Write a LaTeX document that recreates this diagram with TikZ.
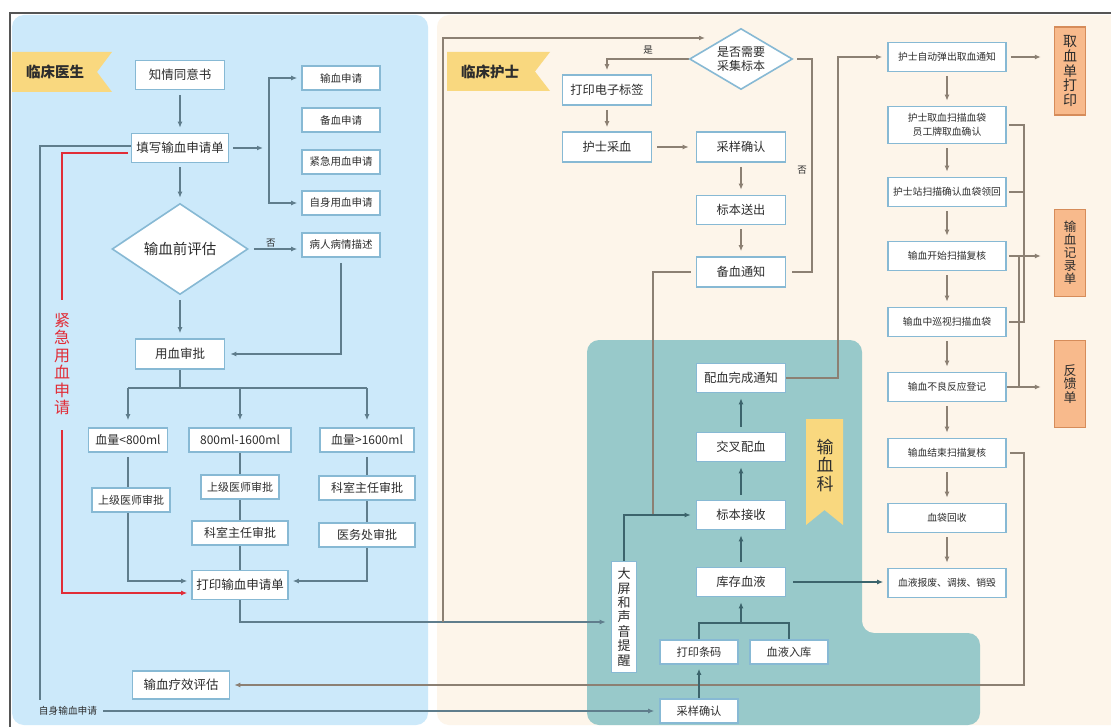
\documentclass[tikz,border=0pt]{standalone}
\usepackage{fontspec}
\setmainfont{Noto Sans CJK SC}
\usetikzlibrary{shapes.geometric,arrows.meta,calc}
\pgfdeclarelayer{panel}
\pgfdeclarelayer{lines}
\pgfsetlayers{panel,lines,main}
\definecolor{bluepanel}{RGB}{204,233,250}
\definecolor{peach}{RGB}{253,245,234}
\definecolor{tealpanel}{RGB}{152,201,202}
\definecolor{ribbon}{RGB}{249,216,127}
\definecolor{orangebox}{RGB}{248,186,140}
\definecolor{orangeline}{RGB}{214,140,90}
\definecolor{nodeline}{RGB}{135,185,212}
\definecolor{txt}{RGB}{45,45,45}
\definecolor{lineL}{RGB}{95,125,140}
\definecolor{lineR}{RGB}{140,128,115}
\definecolor{lineT}{RGB}{60,100,108}
\definecolor{redline}{RGB}{225,45,55}
\definecolor{framec}{RGB}{85,85,85}
\newcommand{\fsz}[2]{\fontsize{#1}{#2}\selectfont}
\begin{document}
\begin{tikzpicture}[x=1pt,y=-1pt,
  bx/.style={draw=nodeline, line width=1.6pt, fill=white, text=txt, inner sep=0pt, align=center},
  dia/.style={bx, shape=diamond},
  obox/.style={draw=orangeline, line width=1.4pt, fill=orangebox, text=txt, inner sep=0pt, align=center},
  lbl/.style={text=txt, inner sep=0pt, align=center},
  ln/.style={line width=1.3pt},
  cl/.style={ln, draw=lineL},
  cr/.style={ln, draw=lineR},
  ct/.style={ln, draw=lineT},
  cred/.style={ln, draw=redline},
  arr/.style={-{Latex[length=6pt,width=5pt]}},
  darr/.style={{Latex[length=6pt,width=5pt]}-{Latex[length=6pt,width=5pt]}}
]
\useasboundingbox (0,0) rectangle (1111,727);
\begin{pgfonlayer}{panel}
\fill[white] (0,0) rectangle (1111,727);
\fill[bluepanel, rounded corners=12pt] (12,15) -- (428,15) -- (428,725) -- (12,725) -- cycle;
\fill[peach, rounded corners=12pt] (437,15) -- (1130,15) -- (1130,725) -- (437,725) -- cycle;
\fill[tealpanel, rounded corners=12pt] (587,340) -- (862,340) -- (862,633) -- (980,633) -- (980,725) -- (587,725) -- cycle;
\draw[framec, line width=2pt] (1115,13) -- (10,13) -- (10,730);
\fill[ribbon] (12,52) -- (112,52) -- (97,72) -- (112,92) -- (12,92) -- cycle;
\fill[ribbon] (447,52) -- (550,52) -- (535,71.5) -- (550,91) -- (447,91) -- cycle;
\fill[ribbon] (806,419) -- (843,419) -- (843,525) -- (824.5,510) -- (806,525) -- cycle;
\end{pgfonlayer}

% banners
\node[lbl, font=\fsz{14.5}{16}\bfseries] (hd1) at (55,72) {临床医生};
\node[lbl, font=\fsz{14.5}{16}\bfseries] (hd2) at (490,72) {临床护士};
\node[lbl, font=\fsz{17}{18.5}] (hd3) at (825,465) {输\\血\\科};

% left panel
\node[bx, minimum width=89pt, minimum height=29pt, font=\fsz{12.5}{14}] (zq) at (180,75) {知情同意书};
\node[bx, minimum width=97pt, minimum height=29pt, font=\fsz{12.5}{14}] (tx) at (180,148) {填写输血申请单};
\node[bx, minimum width=78pt, minimum height=24pt, font=\fsz{10.5}{12}] (r1) at (341,78) {输血申请};
\node[bx, minimum width=78pt, minimum height=24pt, font=\fsz{10.5}{12}] (r2) at (341,120) {备血申请};
\node[bx, minimum width=78pt, minimum height=24pt, font=\fsz{10.5}{12}] (r3) at (341,162) {紧急用血申请};
\node[bx, minimum width=78pt, minimum height=24pt, font=\fsz{10.5}{12}] (r4) at (341,203) {自身用血申请};
\node[bx, minimum width=78pt, minimum height=24pt, font=\fsz{10.5}{12}] (r5) at (341,245) {病人病情描述};
\node[dia, aspect=1.5, minimum width=136pt, minimum height=91pt, font=\fsz{14.5}{16}] (pg) at (180,249) {输血前评估};
\node[bx, minimum width=89pt, minimum height=30pt, font=\fsz{12.5}{14}] (sp) at (180,354) {用血审批};
\node[bx, minimum width=79pt, minimum height=24pt, font=\fsz{12}{14}] (a1) at (128,440) {血量<800ml};
\node[bx, minimum width=102pt, minimum height=24pt, font=\fsz{12}{14}] (a2) at (240,440) {800ml-1600ml};
\node[bx, minimum width=94pt, minimum height=24pt, font=\fsz{12}{14}] (a3) at (367,440) {血量>1600ml};
\node[bx, minimum width=78pt, minimum height=24pt, font=\fsz{11}{13}] (b1) at (131,500) {上级医师审批};
\node[bx, minimum width=78pt, minimum height=24pt, font=\fsz{11}{13}] (b2) at (240,487) {上级医师审批};
\node[bx, minimum width=96pt, minimum height=24pt, font=\fsz{12}{14}] (b3) at (240,533) {科室主任审批};
\node[bx, minimum width=96pt, minimum height=24pt, font=\fsz{12}{14}] (b4) at (367,488) {科室主任审批};
\node[bx, minimum width=96pt, minimum height=24pt, font=\fsz{12}{14}] (b5) at (367,535) {医务处审批};
\node[bx, minimum width=96pt, minimum height=29pt, font=\fsz{12.5}{14}] (dy) at (240,585) {打印输血申请单};
\node[bx, minimum width=97pt, minimum height=28pt, font=\fsz{12.5}{14}] (lx) at (181,685) {输血疗效评估};
\node[lbl, text=redline, font=\fsz{16}{17.5}] (jj) at (62,364) {紧\\急\\用\\血\\申\\请};
\node[lbl, font=\fsz{9.7}{11}] (zs) at (68,711) {自身输血申请};

% nurse panel
\node[dia, aspect=1.7, minimum width=103pt, minimum height=61pt, font=\fsz{12}{14}] (q1) at (741,59) {是否需要\\采集标本};
\node[bx, minimum width=89pt, minimum height=30pt, font=\fsz{12.2}{14}] (p1) at (607,90) {打印电子标签};
\node[bx, minimum width=89pt, minimum height=30pt, font=\fsz{12.2}{14}] (p2) at (607,147) {护士采血};
\node[bx, minimum width=89pt, minimum height=30pt, font=\fsz{12.2}{14}] (p3) at (741,147) {采样确认};
\node[bx, minimum width=89pt, minimum height=29pt, font=\fsz{12.2}{14}] (p4) at (741,210) {标本送出};
\node[bx, minimum width=89pt, minimum height=30pt, font=\fsz{12.2}{14}] (p5) at (741,272) {备血通知};
\node[lbl, font=\fsz{9.5}{11}] (ys) at (648,50) {是};
\node[lbl, font=\fsz{9.5}{11}] (no2) at (802,170) {否};

% blood bank
\node[bx, minimum width=89pt, minimum height=29pt, font=\fsz{12.3}{14}] (t1) at (741,378) {配血完成通知};
\node[bx, minimum width=89pt, minimum height=29pt, font=\fsz{12.3}{14}] (t2) at (741,447) {交叉配血};
\node[bx, minimum width=89pt, minimum height=29pt, font=\fsz{12.3}{14}] (t3) at (741,515) {标本接收};
\node[bx, minimum width=89pt, minimum height=29pt, font=\fsz{12.3}{14}] (t4) at (741,582) {库存血液};
\node[bx, minimum width=78pt, minimum height=24pt, font=\fsz{11.2}{13}] (t5) at (699,652) {打印条码};
\node[bx, minimum width=78pt, minimum height=24pt, font=\fsz{11.2}{13}] (t6) at (789,652) {血液入库};
\node[bx, minimum width=78pt, minimum height=24pt, font=\fsz{11.2}{13}] (t7) at (699,711) {采样确认};
\node[bx, minimum width=25pt, minimum height=111pt, font=\fsz{13}{14.4}] (dp) at (624,617) {大\\屏\\和\\声\\音\\提\\醒};

% right column
\node[bx, minimum width=118pt, minimum height=29pt, font=\fsz{9.8}{12}] (s1) at (947,57) {护士自动弹出取血通知};
\node[bx, minimum width=118pt, minimum height=37pt, font=\fsz{9.8}{14}] (s2) at (947,125) {护士取血扫描血袋\\员工牌取血确认};
\node[bx, minimum width=118pt, minimum height=29pt, font=\fsz{9.8}{12}] (s3) at (947,192) {护士站扫描确认血袋领回};
\node[bx, minimum width=118pt, minimum height=29pt, font=\fsz{9.8}{12}] (s4) at (947,256) {输血开始扫描复核};
\node[bx, minimum width=118pt, minimum height=29pt, font=\fsz{9.8}{12}] (s5) at (947,322) {输血中巡视扫描血袋};
\node[bx, minimum width=118pt, minimum height=29pt, font=\fsz{9.8}{12}] (s6) at (947,387) {输血不良反应登记};
\node[bx, minimum width=118pt, minimum height=29pt, font=\fsz{9.8}{12}] (s7) at (947,453) {输血结束扫描复核};
\node[bx, minimum width=118pt, minimum height=29pt, font=\fsz{9.8}{12}] (s8) at (947,518) {血袋回收};
\node[bx, minimum width=118pt, minimum height=29pt, font=\fsz{9.8}{12}] (s9) at (947,583) {血液报废、调拨、销毁};
\node[obox, minimum width=31pt, minimum height=88pt, font=\fsz{14}{14.8}] (o1) at (1070,71) {取\\血\\单\\打\\印};
\node[obox, minimum width=31pt, minimum height=87pt, font=\fsz{12.5}{13}] (o2) at (1070,253) {输\\血\\记\\录\\单};
\node[obox, minimum width=31pt, minimum height=87pt, font=\fsz{13}{13.5}] (o3) at (1070,384) {反\\馈\\单};

% coordinates
\coordinate (txr) at (263,148);
\coordinate (br1) at (269,78);
\coordinate (br2) at (269,203);
\coordinate (brY) at (180,388);
\coordinate (rd1) at (62,300);
\coordinate (rd2) at (62,430);
\coordinate (gv) at (40,700);
\coordinate (jn) at (443,622);
\coordinate (qin) at (705,38);
\coordinate (nq) at (812,272);
\coordinate (bk) at (653,515);
\coordinate (pc) at (838,57);
\coordinate (kc) at (741,623);
\coordinate (m1) at (1024,125);
\coordinate (m2) at (1024,322);
\coordinate (m3) at (1019,256);
\coordinate (lxc) at (1024,685);

\begin{pgfonlayer}{lines}
% left panel
\draw[cl,arr,shorten <=5pt,shorten >=5pt] (zq) -- (tx);
\draw[cl,arr,shorten <=4pt] (tx.east) -- (txr);
\draw[cl,darr,shorten <=4pt,shorten >=4pt] (r1.west) -- (br1) -- (br2) -- (r4.west);
\draw[cl,arr,shorten <=4pt,shorten >=5pt] (tx) -- (pg);
\draw[cl,arr,shorten <=5pt,shorten >=4pt] (pg.east) -- (pg.east -| r5.west) node[lbl, pos=0.42, above=1pt, font=\fsz{9.5}{11}] {否};
\draw[cl,arr,shorten <=5pt,shorten >=5pt] (r5.south) |- (sp.east);
\draw[cl,arr,shorten <=5pt,shorten >=5pt] (pg) -- (sp);
\draw[cl] (sp.south) -- (brY);
\draw[cl] (brY -| a1) -- (brY -| a3);
\draw[cl,arr,shorten >=7pt] (brY -| a1) -- (a1.north);
\draw[cl,arr,shorten >=7pt] (brY -| a2) -- (a2.north);
\draw[cl,arr,shorten >=7pt] (brY -| a3) -- (a3.north);
\draw[cl,arr,shorten <=4pt,shorten >=4pt] (a1.south) |- ([yshift=4pt]dy.west);
\draw[cl] (a2.south) -- (dy.north);
\draw[cl,arr,shorten <=4pt,shorten >=4pt] (a3.south) |- ([yshift=4pt]dy.east);
\draw[cred,shorten <=3pt] ([yshift=-5pt]tx.west) -| (rd1);
\draw[cred,arr,shorten >=4pt] (rd2) |- ([yshift=-8pt]dy.west);
\draw[cl] ([yshift=2pt]tx.west) -| (gv);
\draw[cl,arr,shorten <=6pt,shorten >=5pt] (zs.east) -- (zs.east -| t7.west);
\draw[cl,arr,shorten >=5pt] (dy.south) |- ([yshift=-5pt]dp.west);
\draw[cr,arr] (jn) |- (qin);
\draw[cr,arr,shorten <=3pt,shorten >=4pt] (s7.east) -| (lxc) -- (lx.east);
% nurse
\draw[cr,arr,shorten >=4pt] (q1.west) -| (p1.north);
\draw[cr,arr,shorten <=4pt,shorten >=4pt] (p1) -- (p2);
\draw[cr,arr,shorten <=5pt,shorten >=7pt] (p2) -- (p3);
\draw[cr,arr,shorten <=4pt,shorten >=5pt] (p3) -- (p4);
\draw[cr,arr,shorten <=4pt,shorten >=5pt] (p4) -- (p5);
\draw[cr,shorten <=4pt,shorten >=6pt] (q1.east) -| (nq) -- (p5.east);
\draw[cr,shorten <=5pt] (p5.west) -| (bk);
\draw[ct,arr,shorten >=5pt] (dp.north) |- (t3.west);
% blood bank
\draw[ct,arr,shorten <=5pt,shorten >=5pt] (t4) -- (t3);
\draw[ct,arr,shorten <=5pt,shorten >=5pt] (t3) -- (t2);
\draw[ct,arr,shorten <=5pt,shorten >=5pt] (t2) -- (t1);
\draw[cr,arr,shorten >=5pt] (t1.east) -| (pc) -- (s1.west);
\draw[ct] (t5.north) |- (kc) -| (t6.north);
\draw[ct,arr,shorten >=5pt] (kc) -- (t4.south);
\draw[ct,arr,shorten >=4pt] (t7.north) -- (t5.south);
\draw[ct,arr,shorten <=7pt,shorten >=4pt] (t4.east) -- (t4.east -| s9.west);
% right column
\draw[cr,arr,shorten <=4pt,shorten >=5pt] (s1) -- (s2);
\draw[cr,arr,shorten <=4pt,shorten >=5pt] (s2) -- (s3);
\draw[cr,arr,shorten <=4pt,shorten >=5pt] (s3) -- (s4);
\draw[cr,arr,shorten <=4pt,shorten >=5pt] (s4) -- (s5);
\draw[cr,arr,shorten <=4pt,shorten >=5pt] (s5) -- (s6);
\draw[cr,arr,shorten <=4pt,shorten >=5pt] (s6) -- (s7);
\draw[cr,arr,shorten <=4pt,shorten >=5pt] (s7) -- (s8);
\draw[cr,arr,shorten <=4pt,shorten >=5pt] (s8) -- (s9);
\draw[cr,arr,shorten <=4pt,shorten >=13pt] (s1.east) -- (s1.east -| o1.west);
\draw[cr,shorten <=2pt,shorten >=2pt] (s2.east) -- (m1) -- (m2) -- (s5.east);
\draw[cr,shorten <=2pt] (s3.east) -- (s3.east -| m1);
\draw[cr,arr,shorten <=2pt,shorten >=13pt] (s4.east) -- (s4.east -| o2.west);
\draw[cr] (m3) |- (s6.east);
\draw[cr,arr,shorten <=2pt,shorten >=13pt] (s6.east) -- (s6.east -| o3.west);
\end{pgfonlayer}
\end{tikzpicture}
\end{document}
